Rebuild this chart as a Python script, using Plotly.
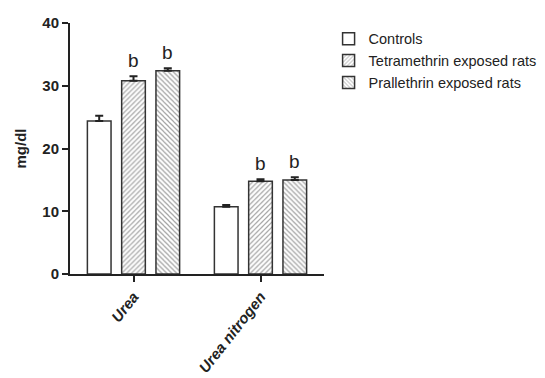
import plotly.graph_objects as go

categories = ["Urea", "Urea nitrogen"]
series_names = ["Controls", "Tetramethrin exposed rats", "Prallethrin exposed rats"]
controls = [24.4, 10.7]
controls_err = [0.8, 0.3]
tetra = [30.8, 14.8]
tetra_err = [0.7, 0.3]
prall = [32.4, 15.0]
prall_err = [0.4, 0.4]
sig_labels = [["", ""], ["b", "b"], ["b", "b"]]
y_ticks = [0, 10, 20, 30, 40]

NARROW = "Liberation Sans Narrow, Arial Narrow, Liberation Sans, Arial"

values = [controls, tetra, prall]
errors = [controls_err, tetra_err, prall_err]
shapes = ["", "/", "\\"]

fig = go.Figure()
for name, vals, errs, shp in zip(series_names, values, errors, shapes):
    marker = dict(color="white", line=dict(color="#333333", width=1.5))
    if shp:
        marker["pattern"] = dict(shape=shp, fgcolor="#4a4a4a", bgcolor="white", size=3.5, solidity=0.35)
    fig.add_trace(go.Bar(
        x=categories, y=vals, name=name, marker=marker,
        error_y=dict(type="data", symmetric=False, array=errs, arrayminus=[0] * len(errs),
                     color="#222222", thickness=2, width=4),
    ))

offsets = [-34, 0, 34]
for si, (vals, errs) in enumerate(zip(values, errors)):
    for ci, cat in enumerate(categories):
        lab = sig_labels[si][ci]
        if lab:
            fig.add_annotation(x=cat, y=vals[ci] + errs[ci], text=lab, showarrow=False,
                               xshift=offsets[si], yanchor="bottom", yshift=3,
                               font=dict(family="Liberation Sans", size=19, color="#222222"))

fig.update_layout(
    width=537, height=370,
    margin=dict(l=62, r=221, t=15, b=104),
    plot_bgcolor="white", paper_bgcolor="white",
    barmode="group", bargap=0.19, bargroupgap=0.31,
    font=dict(family="Liberation Sans", color="#222222"),
    showlegend=True,
    legend=dict(xref="container", yref="container", x=0.597, y=0.96,
                xanchor="left", yanchor="top",
                font=dict(family=NARROW, size=14.5, color="#222222"),
                itemwidth=30, tracegroupgap=0),
)
fig.update_yaxes(range=[0, 40], tickvals=y_ticks, ticktext=[f"<b>{t}</b>" for t in y_ticks],
                 showline=True, linecolor="#222222", linewidth=2, ticks="outside", ticklen=6,
                 tickwidth=2, tickcolor="#222222", showgrid=False, zeroline=False,
                 tickfont=dict(size=15, family=NARROW), automargin=False,
                 title=dict(text="<b>mg/dl</b>", font=dict(size=15), standoff=12))
fig.update_xaxes(tickvals=categories, ticktext=[f"<b><i>{c}</i></b>" for c in categories],
                 tickangle=-52, showline=True, linecolor="#222222", linewidth=2,
                 ticks="outside", ticklen=6, tickwidth=2, tickcolor="#222222",
                 tickfont=dict(size=15), range=[-0.5, 1.5], automargin=False)

fig.write_html("out.html")
